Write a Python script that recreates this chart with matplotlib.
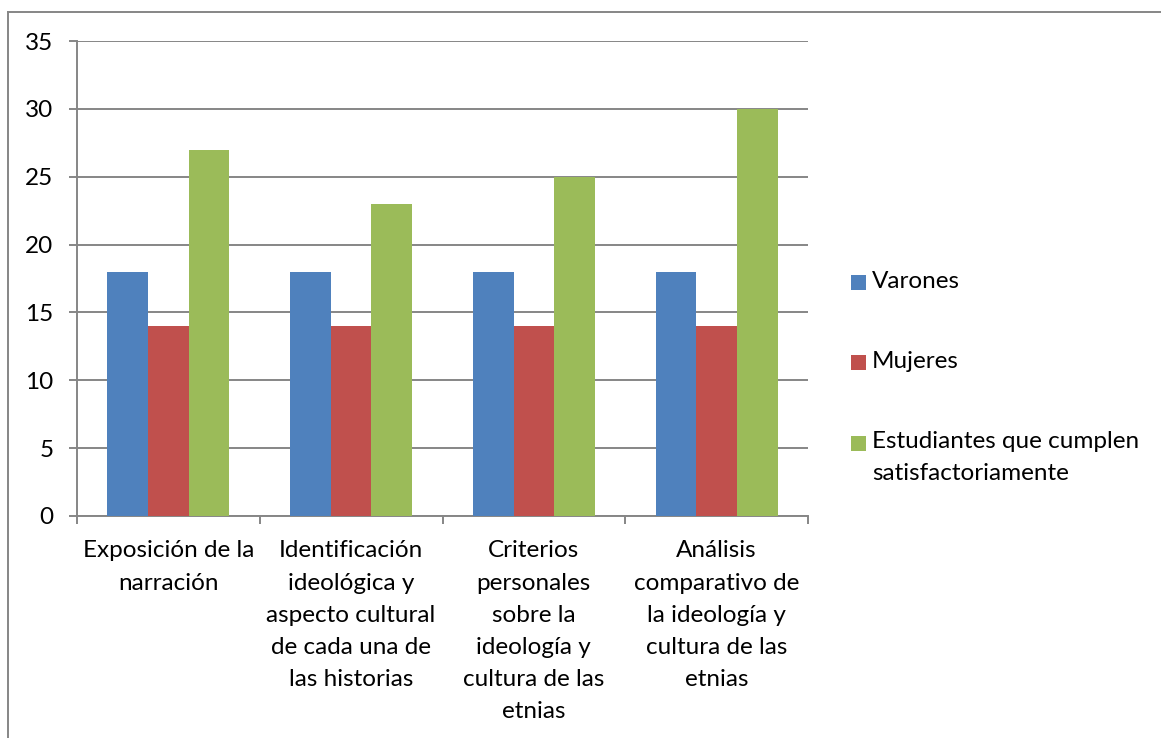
import numpy as np
import matplotlib
matplotlib.use("Agg")
import matplotlib.pyplot as plt
from matplotlib.patches import Rectangle
from matplotlib.lines import Line2D

categories = [
    "Exposición de la\nnarración",
    "Identificación\nideológica y\naspecto cultural\nde cada una de\nlas historias",
    "Criterios\npersonales\nsobre la\nideología y\ncultura de las\netnias",
    "Análisis\ncomparativo de\nla ideología y\ncultura de las\netnias",
]
series_names = ["Varones", "Mujeres", "Estudiantes que cumplen\nsatisfactoriamente"]
varones = [18, 18, 18, 18]
mujeres = [14, 14, 14, 14]
estudiantes = [27, 23, 25, 30]
y_ticks = [0, 5, 10, 15, 20, 25, 30, 35]

COLORS = ["#4F81BD", "#C0504D", "#9BBB59"]
GRID = "#868686"
W, H = 1161, 738
FS = 17.5
LS = 1.66

plt.rcParams["font.family"] = ["Lato", "DejaVu Sans"]

fig = plt.figure(figsize=(W / 100, H / 100), dpi=100)


def fx(px):
    return px / W


def fy(py):
    return 1 - py / H


ax = fig.add_axes([fx(77), fy(516), fx(808) - fx(77), fy(41) - fy(516)])

x = np.arange(len(categories))
bw = 1 / 4.5
for i, vals in enumerate([varones, mujeres, estudiantes]):
    ax.bar(x + (i - 1) * bw, vals, bw, color=COLORS[i], zorder=3)

ax.set_xlim(-0.5, len(categories) - 0.5)
ax.set_ylim(0, 35)
ax.set_yticks(y_ticks)
ax.yaxis.grid(True, color=GRID, linewidth=1.4, zorder=0)
ax.tick_params(axis="y", length=6, width=1.4, color=GRID, pad=11, labelsize=FS)

ax.set_xticks(np.arange(len(categories) + 1) - 0.5)
ax.set_xticklabels([])
ax.set_xticks(x, minor=True)
ax.set_xticklabels(categories, minor=True, fontsize=FS, linespacing=LS, va="top")
ax.tick_params(axis="x", which="major", length=6, width=1.4, color=GRID)
ax.tick_params(axis="x", which="minor", length=0, pad=17.5)

for s in ["top", "right"]:
    ax.spines[s].set_visible(False)
for s in ["left", "bottom"]:
    ax.spines[s].set_color(GRID)
    ax.spines[s].set_linewidth(1.4)

# outer chart border (cropped)
fig.add_artist(Line2D([fx(8), fx(8)], [0, fy(12)], color=GRID, linewidth=1.4))
fig.add_artist(Line2D([fx(8), 1], [fy(12), fy(12)], color=GRID, linewidth=1.4))

# legend, drawn by hand to keep Excel's layout
leg_y = [282, 362, 443]
for color, name, yy in zip(COLORS, series_names, leg_y):
    fig.add_artist(Rectangle((fx(851), fy(yy + 7.5)), fx(15), fy(0) - fy(15),
                             facecolor=color, edgecolor="none"))
    if "\n" in name:
        fig.text(fx(872), fy(yy - 12), name, fontsize=FS, va="top", ha="left",
                 linespacing=LS)
    else:
        fig.text(fx(872), fy(yy), name, fontsize=FS, va="center", ha="left")

fig.savefig("out.png", dpi=100)
